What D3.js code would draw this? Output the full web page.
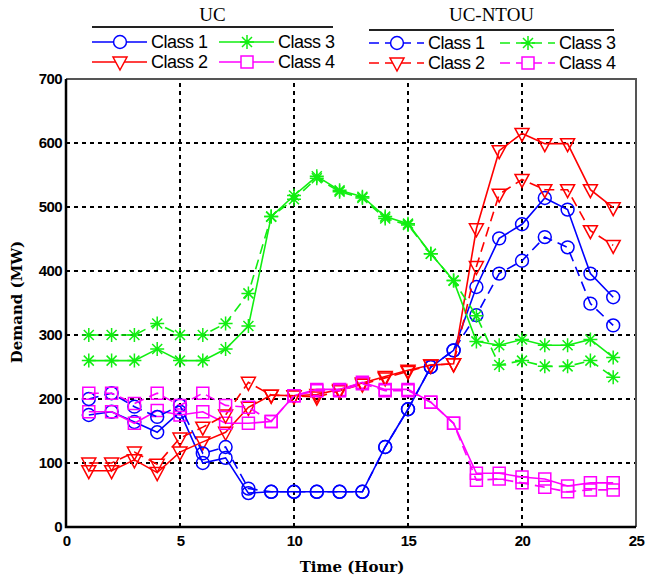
<!DOCTYPE html>
<html>
<head>
<meta charset="utf-8">
<script src="https://d3js.org/d3.v7.min.js"></script>
<style>
body { margin: 0; background: #fff; }
.tick text { font-family: "Liberation Sans Narrow", "Liberation Sans", sans-serif; font-weight: bold; font-size: 15px; letter-spacing: -0.6px; }
</style>
</head>
<body>
<div id="chart"></div>
<script>
// hourly demand per class, UC vs UC-NTOU
var hours = [1,2,3,4,5,6,7,8,9,10,11,12,13,14,15,16,17,18,19,20,21,22,23,24];

var ucClass1 = [175,180,164,148,180,100,108,53,55,55,55,55,55,125,184,250,276,375,451,473,514,496,396,359];
var ucClass2 = [88,88,105,85,117,133,148,187,206,205,207,215,225,235,245,253,255,466,588,615,599,599,527,499];
var ucClass3 = [260,260,260,278,260,260,278,314,485,518,548,526,516,485,474,427,385,290,284,293,284,284,293,265];
var ucClass4 = [180,180,162,182,175,180,162,162,165,205,215,215,226,215,215,195,162,84,84,78,75,64,69,69];

var ntouClass1 = [200,209,188,172,190,115,125,60,55,55,55,55,55,125,184,250,276,331,396,416,453,437,349,315];
var ntouClass2 = [100,100,117,98,139,156,175,226,206,205,203,213,223,233,243,253,255,407,520,543,527,527,463,440];
var ntouClass3 = [300,300,300,318,300,300,318,365,485,512,545,524,514,482,472,427,385,330,253,260,251,251,260,234];
var ntouClass4 = [209,209,193,209,190,209,190,187,165,205,213,213,224,213,213,195,162,73,75,69,62,55,58,58];

var xTicks = [0,5,10,15,20,25];
var yTicks = [0,100,200,300,400,500,600,700];
var classNames = ["Class 1","Class 2","Class 3","Class 4"];
var classColors = ["#0000ff","#ff0000","#11ee11","#ff00ff"];
var classMarkers = ["circle","triangle","star","square"];

var svg = d3.select("#chart").append("svg")
    .attr("width", 646).attr("height", 581);

var xScale = d3.scaleLinear().domain([0,25]).range([66,636]);
var yScale = d3.scaleLinear().domain([0,700]).range([527,79]);

// marker paths
function markerPath(type){
    if (type == "circle") return d3.symbol().type(d3.symbolCircle).size(130)();
    if (type == "square") return "M-6,-6L6,-6L6,6L-6,6Z";
    if (type == "triangle") return "M-7,-5L7,-5L0,8Z";
    // asterisk like matlab '*'
    return "M-7,0L7,0M0,-7L0,7M-5,-5L5,5M-5,5L5,-5";
}

// grid
svg.append("g").selectAll("line").data(xTicks.slice(1,-1)).enter().append("line")
    .attr("x1", function(d){ return xScale(d); })
    .attr("x2", function(d){ return xScale(d); })
    .attr("y1", yScale(0)).attr("y2", yScale(700))
    .attr("stroke","#000").attr("stroke-width",2).attr("stroke-dasharray","4,4");
svg.append("g").selectAll("line").data(yTicks.slice(1,-1)).enter().append("line")
    .attr("y1", function(d){ return yScale(d); })
    .attr("y2", function(d){ return yScale(d); })
    .attr("x1", xScale(0)).attr("x2", xScale(25))
    .attr("stroke","#000").attr("stroke-width",2).attr("stroke-dasharray","4,4");

// frame: top/right lighter, left/bottom solid black
svg.append("path")
    .attr("d", "M" + xScale(0) + "," + yScale(700) + "H" + xScale(25) + "V" + yScale(0))
    .attr("fill","none").attr("stroke","#555").attr("stroke-width",2);
svg.append("path")
    .attr("d", "M" + xScale(0) + "," + yScale(700) + "V" + yScale(0) + "H" + xScale(25))
    .attr("fill","none").attr("stroke","#000").attr("stroke-width",2.5);

// axes
var xAxis = d3.axisBottom(xScale).tickValues(xTicks).tickSize(0).tickPadding(8);
var yAxis = d3.axisLeft(yScale).tickValues(yTicks).tickSize(0).tickPadding(4);
svg.append("g").attr("transform","translate(0," + yScale(0) + ")").call(xAxis)
    .select(".domain").remove();
svg.append("g").attr("transform","translate(" + xScale(0) + ",0)").call(yAxis)
    .select(".domain").remove();

// series
var series = [];
[ucClass1,ucClass2,ucClass3,ucClass4].forEach(function(arr,i){
    series.push({values: arr, color: classColors[i], marker: classMarkers[i], dash: null});
});
[ntouClass1,ntouClass2,ntouClass3,ntouClass4].forEach(function(arr,i){
    series.push({values: arr, color: classColors[i], marker: classMarkers[i], dash: "10,6"});
});

var line = d3.line()
    .x(function(d,i){ return xScale(hours[i]); })
    .y(function(d){ return yScale(d); });

series.forEach(function(s){
    svg.append("path").datum(s.values)
        .attr("d", line)
        .attr("fill","none")
        .attr("stroke", s.color).attr("stroke-width",1.6)
        .attr("stroke-dasharray", s.dash);
    svg.append("g").selectAll("path").data(s.values).enter().append("path")
        .attr("d", markerPath(s.marker))
        .attr("transform", function(d,i){ return "translate(" + xScale(hours[i]) + "," + yScale(d) + ")"; })
        .attr("fill","none").attr("stroke", s.color).attr("stroke-width",1.5);
});

// axis labels
svg.append("text")
    .attr("x", 352).attr("y", 572)
    .attr("text-anchor","middle")
    .style("font-family","DejaVu Serif, serif").style("font-weight","bold").style("font-size","15px")
    .text("Time (Hour)");
svg.append("text")
    .attr("transform","translate(22,302) rotate(-90)")
    .attr("text-anchor","middle")
    .style("font-family","DejaVu Serif, serif").style("font-weight","bold").style("font-size","15px")
    .text("Demand (MW)");

// legend
function legendBlock(title, x0, x1, underY, dash, entries){
    var lg = svg.append("g");
    lg.append("text").attr("x",(x0+x1)/2).attr("y",21).attr("text-anchor","middle")
        .style("font-family","Liberation Serif, serif").style("font-size","19px")
        .text(title);
    lg.append("line").attr("x1",x0).attr("x2",x1).attr("y1",underY).attr("y2",underY)
        .attr("stroke","#222").attr("stroke-width",2);
    entries.forEach(function(e){
        lg.append("line").attr("x1",e.lx).attr("x2",e.lx+55).attr("y1",e.y).attr("y2",e.y)
            .attr("stroke",classColors[e.k]).attr("stroke-width",1.6).attr("stroke-dasharray",dash);
        lg.append("path").attr("d", markerPath(classMarkers[e.k]))
            .attr("transform","translate(" + (e.lx+28) + "," + e.y + ")")
            .attr("fill","#fff").attr("stroke",classColors[e.k]).attr("stroke-width",1.5);
        lg.append("text").attr("x",e.lx+59).attr("y",e.y+6)
            .style("font-family","Liberation Sans Narrow, Liberation Sans, sans-serif").style("font-size","18px")
            .style("letter-spacing","-0.5px")
            .text(classNames[e.k]);
    });
}
legendBlock("UC", 92, 333, 27, null, [
    {k:0, lx:92, y:42}, {k:2, lx:219, y:42},
    {k:1, lx:92, y:62}, {k:3, lx:219, y:62}
]);
legendBlock("UC-NTOU", 369, 614, 30, "10,6", [
    {k:0, lx:369, y:43}, {k:2, lx:500, y:43},
    {k:1, lx:369, y:63}, {k:3, lx:500, y:63}
]);
</script>
</body>
</html>
